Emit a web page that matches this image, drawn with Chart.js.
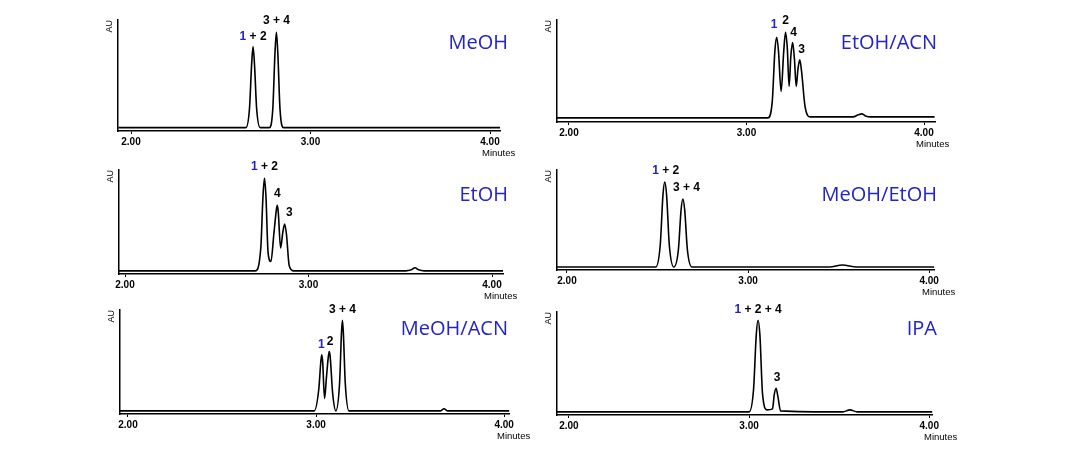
<!DOCTYPE html>
<html><head><meta charset="utf-8">
<script src="https://cdn.jsdelivr.net/npm/chart.js@4/dist/chart.umd.min.js"></script>
<style>
body{margin:0;background:#fff;width:1074px;height:466px;position:relative;overflow:hidden;font-family:"Liberation Sans",Arial,sans-serif}
canvas{position:absolute}
.t{position:absolute;color:#2323c8;font-size:20px;font-family:"Open Sans",sans-serif;white-space:nowrap;text-align:right;width:200px}
.m{position:absolute;font-size:9.5px;color:#000}
</style></head><body>
<script>
// Traces (minutes, AU %)
const meohT=[1.93,2.64,2.66,2.672,2.68,2.688,2.70,2.72,2.77,2.79,2.802,2.81,2.818,2.83,2.85,4.06];
const meohY=[3,3,20,60,76,60,20,3,3,20,70,89,70,20,3,3];
const etohT=[1.93,2.71,2.74,2.752,2.76,2.768,2.78,2.795,2.812,2.825,2.83,2.835,2.848,2.86,2.87,2.88,2.895,2.92,3.53,3.56,3.58,3.60,3.63,4.06];
const etohY=[3,3,25,75,92,75,20,12,40,62,66,60,25,40,48,38,8,3,3,4,6,4,3,3];
const meacT=[1.93,2.99,3.015,3.025,3.03,3.035,3.045,3.055,3.065,3.07,3.075,3.088,3.105,3.125,3.135,3.14,3.145,3.155,3.175,3.66,3.68,3.70,4.06];
const meacY=[3,3,25,50,57,50,15,35,55,60,55,20,3,30,78,90,78,30,3,3,5,3,3];
const etacT=[1.93,3.12,3.145,3.16,3.17,3.18,3.195,3.21,3.22,3.23,3.24,3.25,3.26,3.27,3.28,3.29,3.30,3.31,3.33,3.36,3.6,3.63,3.65,3.67,3.7,4.06];
const etacY=[4,4,20,70,83,70,30,70,88,72,35,65,78,62,35,52,61,50,15,5,5,7,8,6,5,5];
const meetT=[1.93,2.49,2.515,2.53,2.54,2.55,2.565,2.59,2.615,2.63,2.64,2.65,2.665,2.69,3.45,3.52,3.60,4.06];
const meetY=[3,3,25,75,88,75,25,3,20,60,71,60,20,3,3,5,3,3];
const ipaT=[1.93,3.00,3.025,3.04,3.05,3.06,3.075,3.10,3.13,3.14,3.15,3.16,3.175,3.52,3.56,3.60,4.06];
const ipaY=[3,3,25,78,92,78,20,5,6,20,26,18,4,3,5,3,3];
const tickVals=[2,3,4];
const titles=["MeOH","EtOH","MeOH/ACN","EtOH/ACN","MeOH/EtOH","IPA"];
// peak labels: [time, y, text parts] ; "1" is blue
const peakLabels=[
 [[2.68,80,["1"," + 2"]],[2.81,94,["3 + 4"]]],
 [[2.76,97,["1"," + 2"]],[2.83,71,["4"]],[2.895,53,["3"]]],
 [[3.028,61,["1"]],[3.075,64,["2"]],[3.14,95,["3 + 4"]]],
 [[3.155,90,["1"]],[3.22,93,["2"]],[3.265,82,["4"]],[3.31,65,["3"]]],
 [[2.545,93,["1"," + 2"]],[2.66,76,["3 + 4"]]],
 [[3.05,96,["1"," + 2 + 4"]],[3.155,30,["3"]]]
];
const traces=[[meohT,meohY],[etohT,etohY],[meacT,meacY],[etacT,etacY],[meetT,meetY],[ipaT,ipaY]];
// layout
const geo=[
 {l:118,r:500,t:20,b:131,t2:131,t4:490,tr:508,ty:28},
 {l:119,r:503,t:170,b:274,t2:125,t4:492,tr:508,ty:180},
 {l:120,r:510,t:310,b:414,t2:128,t4:505,tr:508,ty:314},
 {l:557,r:935,t:20,b:122,t2:569,t4:924,tr:937,ty:28},
 {l:557,r:935,t:170,b:270,t2:567,t4:930,tr:937,ty:180},
 {l:557,r:935,t:312,b:415,t2:569,t4:932,tr:937,ty:314}
];
const PAD=22;
const labelPlugin={id:'pl',afterDatasetsDraw(c){
  const ctx=c.ctx,xs=c.scales.x,ys=c.scales.y;ctx.save();
  ctx.font='bold 12px "Liberation Sans",Arial';ctx.textBaseline='bottom';
  for(const [t,y,parts] of c.options.plugins.pl.labels){
    const full=parts.join('');let x=xs.getPixelForValue(t)-ctx.measureText(full).width/2;
    const py=ys.getPixelForValue(y);
    parts.forEach((p,i)=>{ctx.fillStyle=(i==0&&p=="1")?'#2323c8':'#000';ctx.fillText(p,x,py);x+=ctx.measureText(p).width;});
  }ctx.restore();}};
geo.forEach((g,i)=>{
  const cv=document.createElement('canvas');
  const W=g.r-g.l+14+6,H=g.b-g.t+PAD+26;
  cv.style.left=(g.l-14)+'px';cv.style.top=(g.t-PAD)+'px';cv.style.width=W+'px';cv.style.height=H+'px';
  document.body.appendChild(cv);
  const ppu=(g.t4-g.t2)/2,mn=2-(g.t2-g.l)/ppu,mx=4+(g.r-g.t4)/ppu;
  const [T,Y]=traces[i];
  new Chart(cv,{type:'line',plugins:[labelPlugin],
   data:{datasets:[{data:T.map((t,k)=>({x:t,y:Y[k]})),borderColor:'#000',borderWidth:1.6,pointRadius:0,cubicInterpolationMode:'monotone',clip:{left:0,right:0,top:false,bottom:0}}]},
   options:{responsive:false,animation:false,devicePixelRatio:1,layout:{padding:{top:PAD,right:6,left:0,bottom:0}},
    plugins:{legend:{display:false},tooltip:{enabled:false},pl:{labels:peakLabels[i]}},
    scales:{
     x:{type:'linear',min:mn,max:mx,afterFit(s){s.height=26},afterBuildTicks(s){s.ticks=tickVals.map(v=>({value:v}))},
        grid:{drawOnChartArea:false,drawTicks:true,tickLength:3,color:'#000'},border:{color:'#000',width:1.5},
        ticks:{color:'#000',font:{size:10,weight:'bold',family:'"Liberation Sans",Arial'},padding:2,maxRotation:0,autoSkip:false,callback:v=>v.toFixed(2)}},
     y:{min:0,max:100,afterFit(s){s.width=14},grid:{display:false},border:{color:'#000',width:1.5},ticks:{display:false},
        title:{display:true,text:'AU',align:'end',color:'#000',font:{size:9,family:'"Liberation Sans",Arial'},padding:0}}
    }}});
  const t=document.createElement('div');t.className='t';t.textContent=titles[i];t.style.left=(g.tr-200)+'px';t.style.top=g.ty+'px';document.body.appendChild(t);
  const m=document.createElement('div');m.className='m';m.textContent='Minutes';m.style.left=(g.t4-8)+'px';m.style.top=(g.b+16)+'px';document.body.appendChild(m);
});
</script></body></html>
